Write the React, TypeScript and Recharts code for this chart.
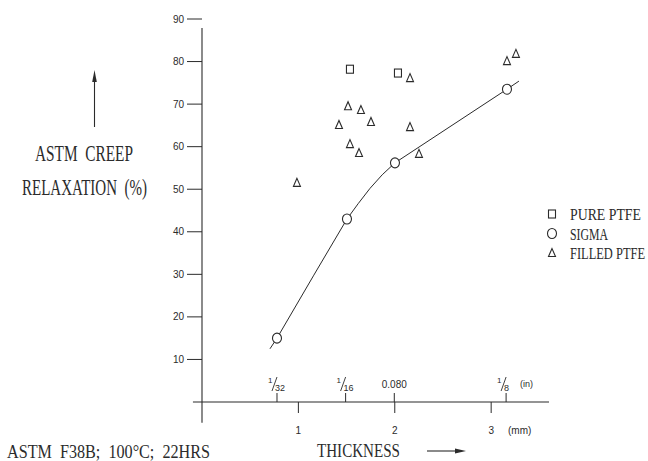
import React from 'react';
import { ComposedChart, XAxis, YAxis, Scatter, Line, ReferenceLine, Legend } from 'recharts';

// thickness in mm, relaxation in %
const pureThickness = [1.535, 2.033];
const pureRelax = [78.2, 77.3];

const sigmaThickness = [0.778, 1.504, 2.002, 3.164];
const sigmaRelax = [15.0, 43.0, 56.2, 73.5];

const fitThickness = [0.705, 0.778, 1.16, 1.504, 1.62, 1.743, 1.87, 2.002, 3.164, 3.288];
const fitRelax = [12.5, 15.0, 29.8, 43.0, 46.6, 50.2, 53.4, 56.2, 73.5, 75.4];

const filledThickness = [2.158, 1.515, 1.649, 1.421, 1.753, 2.158, 1.535, 1.629, 2.251, 0.985, 3.164, 3.257];
const filledRelax = [76.1, 69.5, 68.6, 65.1, 65.8, 64.6, 60.6, 58.5, 58.3, 51.5, 80.1, 81.8];

const yTicks = [10, 20, 30, 40, 50, 60, 70, 80, 90];
const mmTicks = [1, 2, 3];
const mmLabels = ['1', '2', '3'];
const inchTicks = [0.778, 1.49, 1.995, 3.155];
const inchNum = ['1', '1', '', '1'];
const inchDen = ['32', '16', '', '8'];
const inchPlain = ['', '', '0.080', ''];

const seriesNames = ['PURE PTFE', 'SIGMA', 'FILLED PTFE'];
const legendWidths = [71, 38, 75];

const zip = (xs: number[], ys: number[]) => xs.map((x, i) => ({ x, y: ys[i] }));
const pureData = zip(pureThickness, pureRelax);
const sigmaData = zip(sigmaThickness, sigmaRelax);
const fitData = zip(fitThickness, fitRelax);
const filledData = zip(filledThickness, filledRelax);

const INK = '#2b2b2b';
const SERIF = '"Liberation Serif", "DejaVu Serif", serif';
const SANS = '"Liberation Sans", Arial, sans-serif';

const CText = ({ x, y, w, size, sy, children }: any) => (
  <text transform={`translate(${x},${y}) scale(1,${sy})`} fontSize={size} fontFamily={SERIF} fill={INK}
    textLength={w} lengthAdjust="spacingAndGlyphs" style={{ whiteSpace: 'pre' }}>{children}</text>
);

const drawMarker = (kind: string, cx: number, cy: number, key?: any) => {
  if (kind === 'square')
    return <rect key={key} x={cx - 3.5} y={cy - 4} width={7} height={8} fill="none" stroke={INK} strokeWidth={1.1} />;
  if (kind === 'circle')
    return <ellipse key={key} cx={cx} cy={cy} rx={4.5} ry={5} fill="#fff" stroke={INK} strokeWidth={1.1} />;
  return (
    <path key={key} d={`M${cx},${cy - 4.5} L${cx - 3.5},${cy + 3.5} L${cx + 3.5},${cy + 3.5} Z`} fill="none" stroke={INK} strokeWidth={1.1} />
  );
};

const kindOf: Record<string, string> = { 'PURE PTFE': 'square', SIGMA: 'circle', 'FILLED PTFE': 'triangle' };

const XTick = (props: any) => {
  const { x, y, payload } = props;
  const v = payload.value;
  const mi = mmTicks.indexOf(v);
  if (mi >= 0) {
    return (
      <g>
        <line x1={x} x2={x} y1={y} y2={y + 11} stroke={INK} strokeWidth={1} />
        <text x={x} y={y + 32} textAnchor="middle" fontSize={10} fontFamily={SANS} fill={INK}>{mmLabels[mi]}</text>
      </g>
    );
  }
  const ii = inchTicks.indexOf(v);
  if (ii >= 0) {
    return (
      <g>
        <line x1={x} x2={x} y1={y} y2={y - 9} stroke={INK} strokeWidth={1} />
        {inchPlain[ii] ? (
          <text x={x} y={y - 14} textAnchor="middle" fontSize={10} fontFamily={SANS} fill={INK}>{inchPlain[ii]}</text>
        ) : (
          <g fill={INK} fontFamily={SANS}>
            <text x={x - 9} y={y - 19} fontSize={8}>{inchNum[ii]}</text>
            <line x1={x - 5} y1={y - 11} x2={x} y2={y - 25} stroke={INK} strokeWidth={0.9} />
            <text x={x - 2} y={y - 11} fontSize={9}>{inchDen[ii]}</text>
          </g>
        )}
      </g>
    );
  }
  return null;
};

const renderLegend = (props: any) => {
  const items = (props.payload || [])
    .filter((p: any) => kindOf[p.value])
    .sort((a: any, b: any) => seriesNames.indexOf(a.value) - seriesNames.indexOf(b.value));
  return (
    <svg width={100} height={62} style={{ overflow: 'visible', display: 'block' }}>
      {items.map((p: any, i: number) => (
        <g key={p.value}>
          {drawMarker(kindOf[p.value], 7, 10 + i * 19.5)}
          <CText x={25} y={16 + i * 19.5} w={legendWidths[seriesNames.indexOf(p.value)]} size={12.4} sy={1.4}>{p.value}</CText>
        </g>
      ))}
    </svg>
  );
};

export default function App() {
  return (
    <div style={{ position: 'absolute', left: 0, top: 0, width: 648, height: 461, overflow: 'hidden', background: '#fff' }}>
      <ComposedChart width={648} height={461} margin={{ top: 19, right: 99, bottom: 0, left: 0 }}>
        <XAxis type="number" dataKey="x" domain={[0, 3.6]} ticks={[...inchTicks, ...mmTicks].sort((a, b) => a - b)}
          interval={0} axisLine={false} tickLine={false} tickSize={0} tickMargin={0} height={59} tick={<XTick />} allowDataOverflow />
        <YAxis type="number" dataKey="y" domain={[0, 90]} ticks={yTicks} width={202} tickSize={15} tickMargin={3}
          axisLine={false} tickLine={{ stroke: INK, strokeWidth: 1 }}
          tick={{ fontSize: 10, fill: INK, fontFamily: SANS }} allowDataOverflow />
        <ReferenceLine segment={[{ x: -0.094, y: 0 }, { x: 3.6, y: 0 }]} stroke={INK} strokeWidth={1.1} ifOverflow="visible" />
        <ReferenceLine segment={[{ x: 0, y: 87.9 }, { x: 0, y: -4.9 }]} stroke={INK} strokeWidth={1.1} ifOverflow="visible" />
        <Line data={fitData} dataKey="y" type="linear" stroke={INK} strokeWidth={1} dot={false} legendType="none" isAnimationActive={false} />
        <Scatter name={seriesNames[0]} data={pureData} dataKey="y" isAnimationActive={false}
          shape={(p: any) => drawMarker('square', p.cx, p.cy)} />
        <Scatter name={seriesNames[1]} data={sigmaData} dataKey="y" isAnimationActive={false}
          shape={(p: any) => drawMarker('circle', p.cx, p.cy)} />
        <Scatter name={seriesNames[2]} data={filledData} dataKey="y" isAnimationActive={false}
          shape={(p: any) => drawMarker('triangle', p.cx, p.cy)} />
        <Legend layout="vertical" align="center" verticalAlign="middle" content={renderLegend}
          wrapperStyle={{ left: 545, top: 204, width: 100, height: 62 }} />
      </ComposedChart>
      <svg width={648} height={461} style={{ position: 'absolute', left: 0, top: 0, pointerEvents: 'none' }}>
        <CText x={35} y={161} w={98} size={15} sy={1.55}>ASTM  CREEP</CText>
        <CText x={22} y={195} w={125} size={14.8} sy={1.55}>RELAXATION  (%)</CText>
        <line x1={94.5} x2={94.5} y1={127} y2={80} stroke={INK} strokeWidth={1.1} />
        <path d="M94.5,70 L92.2,82 L96.8,82 Z" fill={INK} />
        <CText x={7} y={458} w={203} size={16} sy={1.15}>ASTM  F38B;  100°C;  22HRS</CText>
        <CText x={317} y={457} w={83} size={15} sy={1.3}>THICKNESS</CText>
        <line x1={427} x2={456} y1={451} y2={451} stroke={INK} strokeWidth={1.1} />
        <path d="M466,451 L455,448.5 L455,453.5 Z" fill={INK} />
        <text x={520} y={387} fontSize={9} fontFamily={SANS} fill={INK}>(in)</text>
        <text x={508} y={434} fontSize={10} fontFamily={SANS} fill={INK}>(mm)</text>
      </svg>
    </div>
  );
}
